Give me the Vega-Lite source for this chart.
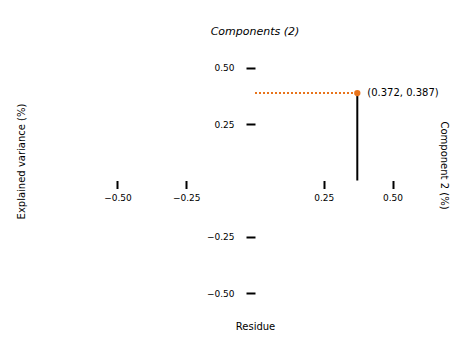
{
  "$schema": "https://vega.github.io/schema/vega-lite/v6.json",
  "autosize": "none",
  "width": 330,
  "height": 271,
  "padding": {"left": 90, "top": 45, "right": 40, "bottom": 29},
  "background": "white",
  "title": {"text": "Components (2)", "fontSize": 11, "fontStyle": "italic", "fontWeight": "normal", "font": "DejaVu Sans", "offset": 8, "color": "black"},
  "config": {
    "view": {"stroke": null},
    "font": "DejaVu Sans",
    "axis": {"grid": false, "domain": false, "labelFontSize": 9, "titleFontSize": 10, "titleFontWeight": "normal", "labelColor": "black", "titleColor": "black", "tickColor": "black", "tickWidth": 2}
  },
  "datasets": {
    "pt": [{"x": 0.372, "y": 0.387, "label": "(0.372, 0.387)"}],
    "hseg": [{"x0": 0, "x1": 0.372, "y0": 0.387}],
    "vseg": [{"x0": 0.372, "y0": 0.387, "y1": 0}]
  },
  "layer": [
    {
      "data": {"name": "hseg"},
      "mark": {"type": "rule", "color": "#e8741c", "strokeWidth": 2, "strokeDash": [2, 2]},
      "encoding": {
        "x": {"field": "x0", "type": "quantitative", "scale": {"domain": [-0.6, 0.6]},
          "axis": {"orient": "bottom", "offset": -135.5, "values": [-0.5, -0.25, 0.25, 0.5], "format": ".2f", "tickSize": 8, "labelPadding": 5, "title": "Residue", "titleY": 141}},
        "x2": {"field": "x1"},
        "y": {"field": "y0", "type": "quantitative", "scale": {"domain": [-0.6, 0.6]},
          "axis": {"orient": "left", "offset": -165, "values": [-0.5, -0.25, 0.25, 0.5], "format": ".2f", "tickSize": 9, "labelPadding": 12, "title": "Explained variance (%)", "titleX": -229, "titleY": 116}}
      }
    },
    {
      "data": {"name": "vseg"},
      "mark": {"type": "rule", "color": "black", "strokeWidth": 2},
      "encoding": {
        "x": {"field": "x0", "type": "quantitative"},
        "y": {"field": "y0", "type": "quantitative", "axis": null},
        "y2": {"field": "y1"}
      }
    },
    {
      "data": {"name": "pt"},
      "mark": {"type": "point", "filled": true, "color": "#e8741c", "size": 40, "opacity": 1},
      "encoding": {
        "x": {"field": "x", "type": "quantitative"},
        "y": {"field": "y", "type": "quantitative", "axis": null}
      }
    },
    {
      "data": {"name": "pt"},
      "mark": {"type": "text", "align": "left", "dx": 10, "fontSize": 10, "color": "black"},
      "encoding": {
        "x": {"field": "x", "type": "quantitative"},
        "y": {"field": "y", "type": "quantitative",
          "axis": {"orient": "right", "labels": false, "ticks": false, "labelOpacity": 0, "tickOpacity": 0, "domain": false, "title": "Component 2 (%)", "titlePadding": 18, "titleY": 120}},
        "text": {"field": "label"}
      }
    }
  ],
  "resolve": {"axis": {"y": "independent"}}
}
